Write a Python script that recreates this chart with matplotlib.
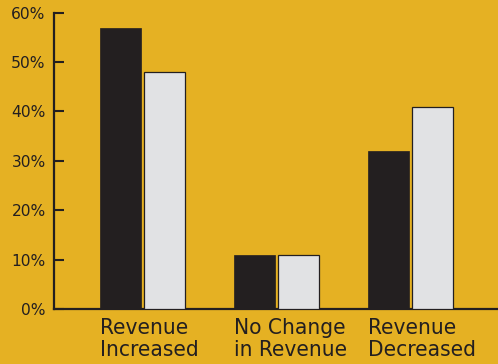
import matplotlib
matplotlib.use("Agg")
import matplotlib.pyplot as plt
import matplotlib.transforms as mtransforms
from matplotlib import font_manager
import numpy as np

categories = ["Revenue\nIncreased", "No Change\nin Revenue", "Revenue\nDecreased"]
series_dark = [57, 11, 32]
series_light = [48, 11, 41]
yticks = [0, 10, 20, 30, 40, 50, 60]
ytick_labels = ["0%", "10%", "20%", "30%", "40%", "50%", "60%"]

BG = "#E5B123"
DARK = "#231F20"
LIGHT = "#E1E2E4"

# pick a condensed face if one is installed
cond = None
for f in font_manager.fontManager.ttflist:
    if f.stretch in ("condensed", "semi-condensed") or "Narrow" in f.name or "Condensed" in f.name:
        if f.weight in (400, "normal", "regular") and f.style == "normal":
            cond = f
            break
if cond is not None:
    label_font = font_manager.FontProperties(fname=cond.fname, size=16.2)
else:
    label_font = font_manager.FontProperties(family="Roboto", size=16.2)

fig = plt.figure(figsize=(4.98, 3.64), dpi=100, facecolor=BG)
ax = fig.add_axes([54/498, 1-309/364, 1-54/498, (309-12.7)/364])
ax.set_facecolor(BG)

x = np.arange(len(categories))
w = 0.306
off = 0.166
ax.bar(x - off, series_dark, w, color=DARK, edgecolor=DARK, linewidth=0.5, zorder=3)
ax.bar(x + off, series_light, w, color=LIGHT, edgecolor=DARK, linewidth=0.9, zorder=3)

ax.set_xlim(-0.662, 2.653)
ax.set_ylim(0, 60)
ax.set_yticks(yticks)
ax.set_yticklabels(ytick_labels, fontsize=11.2, color=DARK, family=["DejaVu Sans"])
ax.tick_params(axis="y", direction="in", length=7.5, width=1.5, color=DARK, pad=6)
ax.set_xticks([])

for s in ["top", "right"]:
    ax.spines[s].set_visible(False)
for s in ["left", "bottom"]:
    ax.spines[s].set_color(DARK)
    ax.spines[s].set_linewidth(1.6)

trans = mtransforms.blended_transform_factory(ax.transData, ax.transAxes)
for i, lab in enumerate(categories):
    ax.text(x[i] - off - w/2, -0.032, lab, transform=trans, ha="left", va="top",
            fontproperties=label_font, color=DARK, linespacing=1.1)

fig.savefig("out.png", dpi=100, facecolor=BG)
